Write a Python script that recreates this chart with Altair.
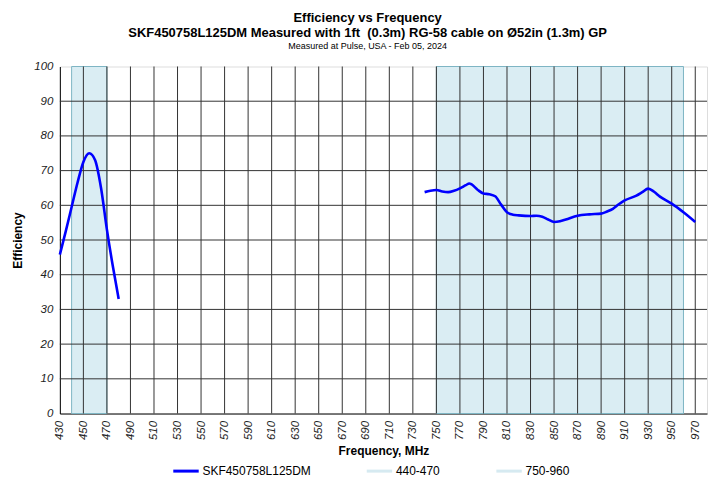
import altair as alt
import pandas as pd

SERIES = "SKF450758L125DM"
BAND_NAMES = ["440-470", "750-960"]
BAND_START = [440, 750]
BAND_END = [470, 960]

low_freq = [430, 435, 440, 445, 450, 455, 460, 465, 470, 475, 480]
low_eff = [45.8, 52.5, 59.5, 66.5, 72.5, 75.0, 73.0, 65.0, 53.0, 42.5, 33.0]

high_freq = [740, 745, 750, 755, 760, 765, 770, 775, 778, 780, 785, 790, 795, 800,
             805, 810, 815, 820, 830, 835, 840, 845, 850, 855, 860, 870, 880, 890,
             895, 900, 905, 910, 920, 925, 930, 935, 940, 950, 960, 970]
high_eff = [63.8, 64.2, 64.4, 64.0, 63.8, 64.2, 64.9, 65.8, 66.3, 66.0, 64.5, 63.4,
            63.2, 62.6, 60.2, 58.0, 57.3, 57.1, 56.9, 57.0, 56.7, 55.9, 55.2, 55.4,
            55.9, 57.0, 57.4, 57.6, 58.2, 59.0, 60.3, 61.4, 62.8, 63.8, 64.8, 63.9,
            62.5, 60.5, 58.0, 55.2]

x_ticks = list(range(430, 971, 20))
x_grid = list(range(450, 971, 20))
y_ticks = list(range(0, 101, 10))
y_grid = list(range(10, 100, 10))

FONT = "Liberation Sans"
W, H = 649, 348

line_df = pd.DataFrame({
    "freq": low_freq + high_freq,
    "eff": low_eff + high_eff,
    "seg": ["low"] * len(low_freq) + ["high"] * len(high_freq),
    "series": [SERIES] * (len(low_freq) + len(high_freq)),
})
band_df = pd.DataFrame({"band": BAND_NAMES, "start": BAND_START, "end": BAND_END})
vgrid_df = pd.DataFrame({"f": x_grid})
hgrid_df = pd.DataFrame({"e": y_grid})

xscale = alt.Scale(domain=[430, 980], nice=False, zero=False)
yscale = alt.Scale(domain=[0, 100], nice=False)

xaxis = alt.Axis(values=x_ticks, labelAngle=270, labelFontStyle="italic", labelFontSize=11.5,
                 labelFont=FONT, title="Frequency, MHz", titleFont=FONT, titleFontSize=12,
                 titleFontWeight="bold", ticks=False, grid=False, domainColor="black",
                 labelPadding=7, titlePadding=6, labelColor="#222", titleColor="black",
                 labelBaseline="middle", labelAlign="right", labelOverlap=False,
                 labelFlush=False)
yaxis = alt.Axis(values=y_ticks, labelFontStyle="italic", labelFontSize=11.5, labelFont=FONT,
                 title="Efficiency", titleFont=FONT, titleFontSize=12, titleFontWeight="bold",
                 ticks=False, grid=False, domainColor="black", labelPadding=7,
                 titlePadding=9, labelColor="#222", titleColor="black", labelOverlap=False,
                 labelFlush=False)

bands = alt.Chart(band_df).mark_rect(fill="#daedf3", stroke="#7db5c4", strokeWidth=1).encode(
    x=alt.X("start:Q", scale=xscale, axis=xaxis, title="Frequency, MHz"),
    x2="end:Q",
    y=alt.value(0),
    y2=alt.value(H),
)

vgrid = alt.Chart(vgrid_df).mark_rule(color="#333", strokeWidth=1).encode(
    x=alt.X("f:Q", scale=xscale, axis=xaxis, title="Frequency, MHz"),
)
hgrid = alt.Chart(hgrid_df).mark_rule(color="#333", strokeWidth=1).encode(
    y=alt.Y("e:Q", scale=yscale, axis=yaxis, title="Efficiency"),
)

line = alt.Chart(line_df).mark_line(strokeWidth=2.6, interpolate="monotone").encode(
    x=alt.X("freq:Q", scale=xscale, axis=xaxis, title="Frequency, MHz"),
    y=alt.Y("eff:Q", scale=yscale, axis=yaxis, title="Efficiency"),
    detail="seg:N",
    color=alt.Color("series:N",
                    scale=alt.Scale(domain=[SERIES] + BAND_NAMES,
                                    range=["#0000ff", "#d6eaf1", "#d6eaf1"]),
                    legend=alt.Legend(orient="none", legendX=112, legendY=391,
                                      direction="horizontal", title=None,
                                      symbolType="stroke", symbolStrokeWidth=3,
                                      symbolSize=650, labelFont=FONT, labelFontSize=12,
                                      labelColor="black", columnPadding=49, labelOffset=2)),
)

chart = alt.layer(bands, vgrid, hgrid, line).properties(
    width=W, height=H,
    title=alt.TitleParams(
        text=["Efficiency vs Frequency",
              "SKF450758L125DM Measured with 1ft \u00a0(0.3m) RG-58 cable on Ø52in (1.3m) GP"],
        subtitle="Measured at Pulse, USA - Feb 05, 2024",
        font=FONT, fontSize=13, fontWeight="bold", lineHeight=15,
        subtitleFont=FONT, subtitleFontSize=9, subtitlePadding=2,
        anchor="middle", frame="bounds", offset=10, dx=8, color="black", subtitleColor="black",
    ),
).configure_view(stroke="#999", strokeWidth=2).configure_axis(
    labelOverlap=False
).configure(padding={"left": 3, "top": 3, "right": 5, "bottom": 5})

chart.save("out.html", embed_options={"renderer": "svg", "actions": False})
